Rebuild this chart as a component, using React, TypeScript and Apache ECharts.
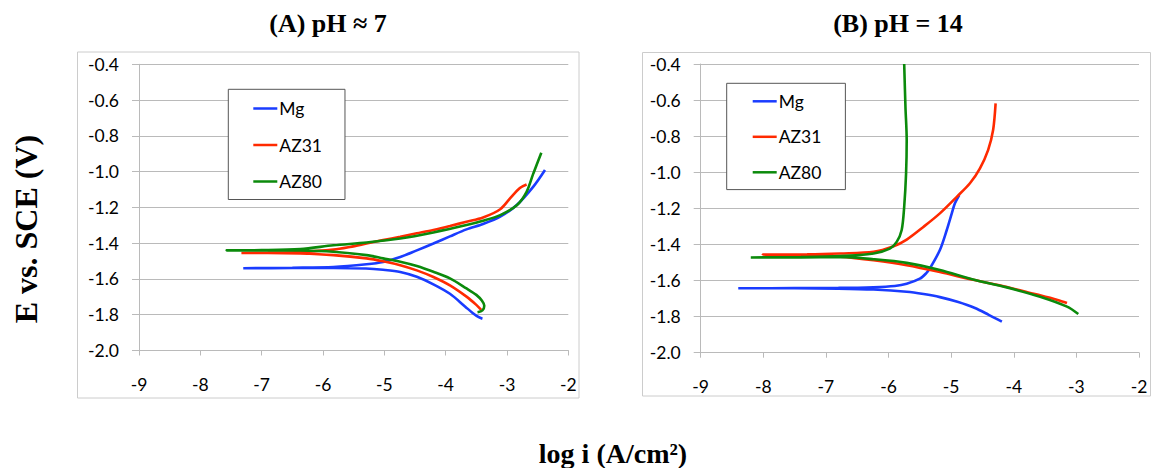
import { useEffect, useRef } from "react";
import * as echarts from "echarts";

// Potentiodynamic polarization curves, E (V vs SCE) against log i (A/cm2).
// Each curve runs in scan order: cathodic end -> corrosion potential tip -> anodic end.

const seriesNames = ["Mg", "AZ31", "AZ80"];
const seriesColors = ["#1a3cff", "#ff2a00", "#0b8a0b"];

const panelTitles = ["(A) pH \u2248 7", "(B) pH = 14"];
const xAxisTitle = "log i (A/cm\u00B2)";
const yAxisTitle = "E vs. SCE (V)";

const xMin = -9;
const xMax = -2;
const xStep = 1;
const yMin = -2.0;
const yMax = -0.4;
const yStep = 0.2;

// (A) pH ~ 7
const mgNeutral: [number, number][] = [
  [-3.40, -1.822], [-3.46, -1.814], [-3.56, -1.790], [-3.68, -1.755], [-3.93, -1.683],
  [-4.20, -1.630], [-4.47, -1.588], [-4.74, -1.561], [-5.02, -1.549], [-5.30, -1.542],
  [-5.83, -1.539], [-6.50, -1.539], [-7.30, -1.540],
  [-6.50, -1.537], [-5.83, -1.533], [-5.29, -1.518], [-5.02, -1.505], [-4.74, -1.477],
  [-4.47, -1.440], [-4.20, -1.402], [-3.93, -1.362], [-3.66, -1.323], [-3.39, -1.293],
  [-3.11, -1.252], [-2.84, -1.187], [-2.57, -1.084], [-2.38, -0.991],
];

const az31Neutral: [number, number][] = [
  [-3.42, -1.773], [-3.50, -1.745], [-3.66, -1.699], [-3.93, -1.636], [-4.20, -1.589],
  [-4.47, -1.552], [-4.74, -1.523], [-5.02, -1.501], [-5.29, -1.485], [-5.83, -1.467],
  [-6.37, -1.458], [-6.90, -1.455], [-7.33, -1.455],
  [-6.90, -1.453], [-6.37, -1.449], [-5.83, -1.436], [-5.56, -1.421], [-5.29, -1.402],
  [-5.02, -1.383], [-4.74, -1.364], [-4.47, -1.345], [-4.20, -1.326], [-3.93, -1.304],
  [-3.66, -1.280], [-3.39, -1.256], [-3.11, -1.210], [-2.95, -1.150], [-2.79, -1.092],
  [-2.68, -1.072],
];

const az80Neutral: [number, number][] = [
  [-3.48, -1.786], [-3.40, -1.776], [-3.37, -1.750], [-3.41, -1.721], [-3.50, -1.689],
  [-3.66, -1.653], [-3.93, -1.597], [-4.20, -1.560], [-4.47, -1.528], [-4.74, -1.504],
  [-5.02, -1.485], [-5.29, -1.467], [-5.83, -1.448], [-6.37, -1.441], [-7.00, -1.440],
  [-7.57, -1.440],
  [-7.00, -1.439], [-6.37, -1.433], [-5.83, -1.412], [-5.29, -1.396], [-4.74, -1.374],
  [-4.20, -1.340], [-3.66, -1.299], [-3.39, -1.275], [-3.11, -1.243], [-2.84, -1.188],
  [-2.68, -1.113], [-2.57, -1.010], [-2.44, -0.894],
];

// (B) pH = 14
const mgAlkaline: [number, number][] = [
  [-4.19, -1.828], [-4.40, -1.790], [-4.62, -1.752], [-4.90, -1.718], [-5.18, -1.692],
  [-5.44, -1.675], [-5.71, -1.662], [-6.24, -1.650], [-6.80, -1.645], [-7.50, -1.643],
  [-8.40, -1.643],
  [-7.50, -1.642], [-6.80, -1.641], [-6.24, -1.637], [-5.90, -1.630], [-5.71, -1.618],
  [-5.50, -1.590], [-5.40, -1.560], [-5.34, -1.533], [-5.18, -1.431], [-5.07, -1.320],
  [-4.99, -1.228], [-4.94, -1.172], [-4.87, -1.126],
];

const az31Alkaline: [number, number][] = [
  [-3.15, -1.725], [-3.30, -1.708], [-3.58, -1.682], [-4.11, -1.636], [-4.65, -1.596],
  [-5.18, -1.553], [-5.71, -1.515], [-6.24, -1.488], [-6.77, -1.468], [-7.30, -1.459],
  [-8.01, -1.456],
  [-7.30, -1.455], [-6.77, -1.450], [-6.24, -1.441], [-5.92, -1.410], [-5.71, -1.373],
  [-5.44, -1.302], [-5.18, -1.228], [-4.91, -1.136], [-4.70, -1.061], [-4.54, -0.978],
  [-4.41, -0.877], [-4.33, -0.766], [-4.29, -0.618],
];

const az80Alkaline: [number, number][] = [
  [-2.97, -1.786], [-3.15, -1.745], [-3.58, -1.690], [-4.11, -1.638], [-4.65, -1.594],
  [-5.18, -1.542], [-5.71, -1.502], [-6.24, -1.482], [-6.77, -1.470], [-7.40, -1.472],
  [-8.20, -1.472],
  [-7.40, -1.470], [-6.77, -1.465], [-6.24, -1.450], [-5.98, -1.423], [-5.87, -1.386],
  [-5.79, -1.320], [-5.75, -1.191], [-5.72, -1.006], [-5.71, -0.821], [-5.73, -0.637],
  [-5.75, -0.400],
];

const panelData = [
  [mgNeutral, az31Neutral, az80Neutral],
  [mgAlkaline, az31Alkaline, az80Alkaline],
];

const tickFont = "Lato, 'Open Sans', sans-serif";
const serifFont = "'Liberation Serif', 'DejaVu Serif', serif";
const gridGray = "#bababa";

function buildOption() {
  const grids = [
    { left: 139, top: 64.3, width: 429.3, height: 286.2 },
    { left: 700.7, top: 64, width: 438.3, height: 288.7 },
  ];

  const xAxes = grids.map((_, i) => ({
    type: "value",
    gridIndex: i,
    min: xMin,
    max: xMax,
    interval: xStep,
    axisLine: { show: true, onZero: false, lineStyle: { color: gridGray, width: 1 } },
    axisTick: { show: true, length: 5, lineStyle: { color: gridGray } },
    splitLine: { show: false },
    axisLabel: {
      margin: 25,
      color: "#000",
      fontFamily: tickFont,
      fontSize: 17.5,
      formatter: (v: number) => String(Math.round(v)),
    },
  }));

  const yAxes = grids.map((_, i) => ({
    type: "value",
    gridIndex: i,
    min: yMin,
    max: yMax,
    interval: yStep,
    axisLine: { show: true, onZero: false, lineStyle: { color: gridGray, width: 1 } },
    axisTick: { show: true, length: 7, lineStyle: { color: gridGray } },
    splitLine: { show: true, lineStyle: { color: gridGray, width: 1 } },
    axisLabel: {
      margin: 20,
      color: "#000",
      fontFamily: tickFont,
      fontSize: 17.5,
      formatter: (v: number) => v.toFixed(1),
    },
  }));

  const series: any[] = [];
  panelData.forEach((curves, p) => {
    curves.forEach((data, k) => {
      series.push({
        type: "line",
        name: seriesNames[k],
        xAxisIndex: p,
        yAxisIndex: p,
        data,
        showSymbol: false,
        symbol: "none",
        smooth: 0.3,
        clip: true,
        lineStyle: { color: seriesColors[k], width: 2.6 },
        itemStyle: { color: seriesColors[k] },
        z: 3 + k,
      });
    });
  });

  const legendBase = {
    orient: "vertical",
    icon: "rect",
    itemWidth: 24,
    itemHeight: 2.5,
    borderColor: "#555",
    borderWidth: 1,
    backgroundColor: "#fff",
    selectedMode: false,
    data: seriesNames,
    textStyle: { color: "#000", fontFamily: tickFont, fontSize: 17.5, padding: [0, 0, 0, -3] },
  };

  const legends = [
    { ...legendBase, left: 228.3, top: 89.3, itemGap: 18.5, padding: [10.2, 23, 9, 25] },
    { ...legendBase, left: 726.7, top: 83.3, itemGap: 17.5, padding: [9, 24, 8.3, 26] },
  ];

  const textStyle = (text: string, fontSize: number) => ({
    text,
    fontFamily: serifFont,
    fontWeight: "bold",
    fontSize,
    fill: "#000",
    align: "center",
    verticalAlign: "middle",
  });

  const graphic: any[] = [
    {
      type: "rect",
      shape: { x: 77.5, y: 52, width: 501.5, height: 346 },
      style: { fill: "none", stroke: "#cccccc", lineWidth: 1 },
      silent: true,
      z: -10,
    },
    {
      type: "rect",
      shape: { x: 642.5, y: 52.5, width: 508, height: 343.5 },
      style: { fill: "none", stroke: "#cccccc", lineWidth: 1 },
      silent: true,
      z: -10,
    },
    { type: "text", x: 328, y: 23, style: textStyle(panelTitles[0], 26) },
    { type: "text", x: 898, y: 23, style: textStyle(panelTitles[1], 26) },
    { type: "text", x: 26, y: 229, rotation: Math.PI / 2, style: textStyle(yAxisTitle, 32) },
    { type: "text", x: 613, y: 453, style: textStyle(xAxisTitle, 28) },
  ];

  return {
    animation: false,
    backgroundColor: "#ffffff",
    grid: grids,
    xAxis: xAxes,
    yAxis: yAxes,
    legend: legends,
    series,
    graphic,
  };
}

export default function App() {
  const ref = useRef<HTMLDivElement>(null);

  useEffect(() => {
    if (!ref.current) return;
    const chart = echarts.init(ref.current, undefined, { renderer: "svg" });
    chart.setOption(buildOption() as any);
    return () => chart.dispose();
  }, []);

  return (
    <div
      ref={ref}
      style={{ position: "fixed", left: 0, top: 0, width: 1153, height: 468, background: "#fff" }}
    />
  );
}
